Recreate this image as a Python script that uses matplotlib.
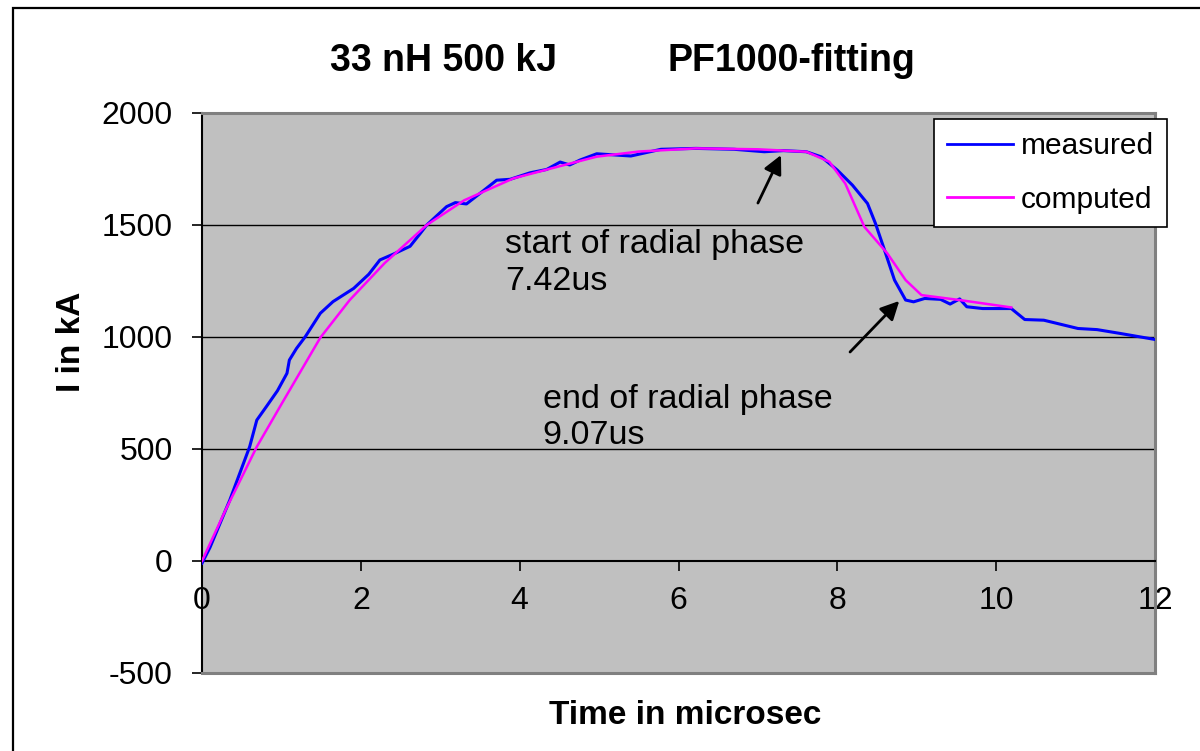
import matplotlib
matplotlib.use("Agg")
import matplotlib.pyplot as plt
from matplotlib.patches import Rectangle

plt.rcParams['font.family'] = ['Liberation Sans', 'DejaVu Sans']
plt.rcParams['axes.unicode_minus'] = False

# ---- data ----
t_measured = [0, 0.1, 0.35, 0.6, 0.69, 0.81, 0.95, 1.07, 1.10, 1.19, 1.30, 1.49, 1.65,
              1.91, 2.1, 2.24, 2.41, 2.62, 2.75, 2.83, 3.08, 3.19, 3.33, 3.5, 3.71, 3.88,
              4.13, 4.34, 4.51, 4.63, 4.76, 4.97, 5.40, 5.78, 6.22, 6.70, 7.08, 7.32, 7.61,
              7.80, 8.00, 8.19, 8.38, 8.48, 8.58, 8.72, 8.86, 8.96, 9.10, 9.30, 9.42, 9.54,
              9.63, 9.83, 10.19, 10.36, 10.60, 11.03, 11.27, 11.56, 12.0]
I_measured = [-10, 60, 272, 510, 629, 689, 760, 838, 897, 949, 1001, 1106, 1158,
              1217, 1280, 1344, 1370, 1405, 1463, 1500, 1582, 1600, 1594, 1641, 1700, 1704,
              1733, 1748, 1781, 1768, 1790, 1818, 1808, 1838, 1842, 1838, 1827, 1832, 1827,
              1804, 1745, 1678, 1596, 1507, 1403, 1254, 1165, 1157, 1172, 1168, 1147, 1170,
              1135, 1127, 1127, 1078, 1075, 1038, 1033, 1016, 989]

t_computed = [0, 0.3, 0.69, 1.0, 1.49, 1.86, 2.3, 2.83, 3.3, 3.92, 4.51, 4.97, 5.5,
              6.22, 7.0, 7.61, 7.90, 8.10, 8.34, 8.63, 8.86, 9.06, 9.54, 10.19]
I_computed = [0, 230, 510, 700, 997, 1165, 1330, 1500, 1610, 1708, 1763, 1805, 1828,
              1842, 1838, 1827, 1782, 1685, 1492, 1373, 1254, 1187, 1165, 1132]

x_ticks = [0, 2, 4, 6, 8, 10, 12]
y_ticks = [-500, 0, 500, 1000, 1500, 2000]
grid_levels = [500, 1000, 1500]

title_left = "33 nH 500 kJ"
title_right = "PF1000-fitting"
x_label = "Time in microsec"
y_label = "I in kA"
note_start = "start of radial phase\n7.42us"
note_end = "end of radial phase\n9.07us"

W, H = 1200, 751
fig = plt.figure(figsize=(W / 100, H / 100), dpi=100)
fig.patch.set_facecolor('white')

# outer frame
fig.add_artist(Rectangle((13 / W, -0.05), 1.2, 1 - 8 / H + 0.05, transform=fig.transFigure,
                         fill=False, edgecolor='black', linewidth=1.6))

L, R, T, B = 202, 1155, 113, 673
ax = fig.add_axes([L / W, 1 - B / H, (R - L) / W, (B - T) / H])
ax.set_facecolor('#C0C0C0')
ax.set_xlim(0, 12)
ax.set_ylim(-500, 2000)

for lv in grid_levels:
    ax.axhline(lv, color='black', linewidth=1.0, zorder=1)

ax.spines['left'].set_color('black')
ax.spines['left'].set_linewidth(1.5)
ax.spines['bottom'].set_position(('data', 0))
ax.spines['bottom'].set_color('black')
ax.spines['bottom'].set_linewidth(1.5)
for s in ['top', 'right']:
    ax.spines[s].set_color('#808080')
    ax.spines[s].set_linewidth(2.2)
ax.plot([0, 1], [0, 0], transform=ax.transAxes, color='#808080', linewidth=2.2,
        clip_on=False, zorder=5)

ax.set_xticks(x_ticks)
ax.set_yticks(y_ticks)
ax.tick_params(axis='x', direction='out', length=7, width=1.2, pad=11, labelsize=23)
ax.tick_params(axis='y', direction='out', length=7, width=1.2, pad=14, labelsize=23)

ax.plot(t_measured, I_measured, color='#0000FF', linewidth=2.2, label='measured', zorder=3,
        solid_joinstyle='round')
ax.plot(t_computed, I_computed, color='#FF00FF', linewidth=1.8, label='computed', zorder=4,
        solid_joinstyle='round')

ax.text(3.815, 1480, note_start, fontsize=24.5, ha='left', va='top', linespacing=1.22)
ax.text(4.29, 790, note_end, fontsize=24.5, ha='left', va='top', linespacing=1.22)

ap = dict(arrowstyle='-|>', color='black', lw=2, mutation_scale=28, shrinkA=0, shrinkB=0)
ax.annotate('', xy=(7.29, 1812), xytext=(7.00, 1598), arrowprops=ap)
ax.annotate('', xy=(8.78, 1161), xytext=(8.16, 933), arrowprops=ap)

leg = ax.legend(loc='upper left', bbox_to_anchor=(934 / W, 1 - 119 / H),
                bbox_transform=fig.transFigure, fontsize=21.5, frameon=True, fancybox=False,
                edgecolor='black', framealpha=1, handlelength=2.2, handletextpad=0.25,
                labelspacing=0.85, borderpad=0.45, borderaxespad=0)
leg.get_frame().set_linewidth(1.2)
for ln in leg.get_lines():
    ln.set_linewidth(2)

fig.text(330 / W, 1 - 61 / H, title_left, fontsize=27, fontweight='bold', ha='left', va='center')
fig.text(667 / W, 1 - 61 / H, title_right, fontsize=27, fontweight='bold', ha='left', va='center')
fig.text(685 / W, 1 - 716 / H, x_label, fontsize=24, fontweight='bold', ha='center', va='center')
fig.text(72 / W, 1 - 342 / H, y_label, fontsize=24, fontweight='bold', ha='center', va='center',
         rotation=90)

fig.savefig('out.png', dpi=100)
